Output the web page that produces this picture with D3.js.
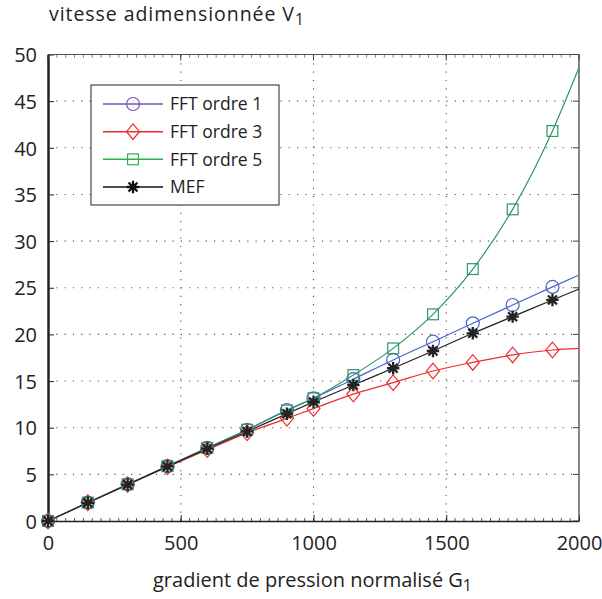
<!DOCTYPE html>
<html><head><meta charset="utf-8">
<script src="https://cdn.jsdelivr.net/npm/d3@7"></script>
<style>
body{margin:0;background:#fff;}
text{font-family:"Open Sans",sans-serif;fill:#222;}
</style></head>
<body><svg id="c" width="602" height="599"></svg>
<script>
// ---- data ----
const xValues = [0,150,300,450,600,750,900,1000,1150,1300,1450,1600,1750,1900];
const xEnd = 2000;
const fft1 = [0,1.97,3.93,5.88,7.84,9.78,11.88,13.15,15.2,17.26,19.22,21.19,23.15,25.09];
const fft3 = [0,1.95,3.9,5.8,7.65,9.45,11.0,12.05,13.6,14.83,16.08,17.0,17.8,18.33];
const fft5 = [0,1.97,3.93,5.88,7.84,9.78,11.85,13.15,15.64,18.5,22.15,27.0,33.4,41.8];
const mef  = [0,1.95,3.9,5.85,7.75,9.6,11.5,12.75,14.57,16.37,18.22,20.12,21.9,23.69];
const endValues = {fft1:26.37, fft3:18.5, fft5:48.6, mef:24.87};
const xTicks = [0,500,1000,1500,2000];
const yTicks = [0,5,10,15,20,25,30,35,40,45,50];
const seriesNames = ["FFT ordre 1","FFT ordre 3","FFT ordre 5","MEF"];
const yTitle = "vitesse adimensionnée V";
const xTitle = "gradient de pression normalisé G";

const svg = d3.select("#c");
const L=48,R=579,T=54.5,B=521;
const x = d3.scaleLinear().domain([0,2000]).range([L,R]);
const y = d3.scaleLinear().domain([0,50]).range([B,T]);

// grid
const g = svg.append("g");
g.selectAll(".gx").data(xTicks.filter(d=>d>0&&d<2000)).join("line")
 .attr("x1",d=>x(d)).attr("x2",d=>x(d)).attr("y1",B).attr("y2",T)
 .attr("stroke","#555").attr("stroke-width",1.1).attr("stroke-dasharray","1.2,7.1");
g.selectAll(".gy").data(yTicks.filter(d=>d>0&&d<50)).join("line")
 .attr("x1",L).attr("x2",R).attr("y1",d=>y(d)).attr("y2",d=>y(d))
 .attr("stroke","#555").attr("stroke-width",1.1).attr("stroke-dasharray","1.2,7.1");

// minor ticks on x (top & bottom)
const minor = d3.range(0,2000.01,500/15);
svg.append("g").selectAll("line").data(minor).join("line")
 .attr("x1",d=>x(d)).attr("x2",d=>x(d)).attr("y1",B).attr("y2",B-3)
 .attr("stroke","#333").attr("stroke-width",0.8);
svg.append("g").selectAll("line").data(minor).join("line")
 .attr("x1",d=>x(d)).attr("x2",d=>x(d)).attr("y1",T).attr("y2",T+3)
 .attr("stroke","#555").attr("stroke-width",0.8);

// axes with d3 axis (ticks inside)
const ax = svg.append("g").attr("transform",`translate(0,${B})`)
 .call(d3.axisBottom(x).tickValues(xTicks).tickFormat(d3.format("d")).tickSizeInner(-6).tickSizeOuter(0).tickPadding(0));
ax.select(".domain").attr("stroke","#222").attr("stroke-width",1.6);
ax.selectAll(".tick line").attr("stroke","#222");
ax.selectAll(".tick text").attr("font-size",20).attr("y",29).attr("dy",0).attr("fill","#222")
 .style("font-family","'Open Sans',sans-serif");
const ay = svg.append("g").attr("transform",`translate(${L},0)`)
 .call(d3.axisLeft(y).tickValues(yTicks).tickFormat(d3.format("d")).tickSizeInner(-6).tickSizeOuter(0).tickPadding(0));
ay.select(".domain").attr("stroke","#222").attr("stroke-width",2.5);
ay.selectAll(".tick line").attr("stroke","#222");
ay.selectAll(".tick text").attr("font-size",20).attr("x",-11).attr("dy","0.36em").attr("fill","#222")
 .style("font-family","'Open Sans',sans-serif");
// top and right box
svg.append("line").attr("x1",L).attr("x2",R).attr("y1",T).attr("y2",T).attr("stroke","#555").attr("stroke-width",1);
svg.append("line").attr("x1",R).attr("x2",R).attr("y1",T).attr("y2",B).attr("stroke","#444").attr("stroke-width",1.3);
svg.append("g").selectAll("line").data(yTicks).join("line")
 .attr("x1",R).attr("x2",R-6).attr("y1",d=>y(d)).attr("y2",d=>y(d)).attr("stroke","#444");
svg.append("g").selectAll("line").data(xTicks).join("line")
 .attr("x1",d=>x(d)).attr("x2",d=>x(d)).attr("y1",T).attr("y2",T+6).attr("stroke","#444");

// series
const series = [
 {name:seriesNames[0], vals:fft1, end:endValues.fft1, color:"#4766c6", lcolor:"#7356b2", marker:"circle"},
 {name:seriesNames[1], vals:fft3, end:endValues.fft3, color:"#ee2b2b", lcolor:"#ee2b2b", marker:"diamond"},
 {name:seriesNames[2], vals:fft5, end:endValues.fft5, color:"#2f9466", lcolor:"#2bb14a", marker:"square"},
 {name:seriesNames[3], vals:mef,  end:endValues.mef,  color:"#222222", lcolor:"#111111", marker:"star"}
];
const line = d3.line().x(d=>x(d[0])).y(d=>y(d[1])).curve(d3.curveMonotoneX);

function drawMarker(sel, type, color){
  if(type==="circle"){
    sel.append("circle").attr("r",6.5).attr("fill","none").attr("stroke",color).attr("stroke-width",1.2);
  } else if(type==="diamond"){
    sel.append("path").attr("d","M0,-7.8L6.5,0L0,7.8L-6.5,0Z").attr("fill","none").attr("stroke",color).attr("stroke-width",1.2);
  } else if(type==="square"){
    sel.append("rect").attr("x",-5.4).attr("y",-5.4).attr("width",10.8).attr("height",10.8).attr("fill","none").attr("stroke",color).attr("stroke-width",1.2);
  } else {
    const r=6.2, r2=r*0.72;
    sel.append("path").attr("d",`M${-r},0L${r},0M0,${-r}L0,${r}M${-r2},${-r2}L${r2},${r2}M${-r2},${r2}L${r2},${-r2}`)
     .attr("stroke",color).attr("stroke-width",2.3).attr("fill","none");
  }
}

const plot = svg.append("g");
series.forEach(s=>{
  const pts = xValues.map((xv,i)=>[xv,s.vals[i]]).concat([[xEnd,s.end]]);
  plot.append("path").attr("d",line(pts)).attr("fill","none").attr("stroke",s.color).attr("stroke-width",1.2);
});
series.forEach(s=>{
  xValues.forEach((xv,i)=>{
    const m = plot.append("g").attr("transform",`translate(${x(xv)},${y(s.vals[i])})`);
    drawMarker(m,s.marker,s.color);
  });
});

// legend
const lg = svg.append("g");
lg.append("rect").attr("x",91).attr("y",85).attr("width",188).attr("height",120)
 .attr("fill","#fff").attr("stroke","#222").attr("stroke-width",1);
const rowY=[104,131.7,159.3,187];
series.forEach((s,i)=>{
  lg.append("line").attr("x1",103).attr("x2",163).attr("y1",rowY[i]).attr("y2",rowY[i]).attr("stroke",s.lcolor).attr("stroke-width",1.6);
  const m = lg.append("g").attr("transform",`translate(133,${rowY[i]})`);
  drawMarker(m,s.marker,s.lcolor);
  lg.append("text").attr("x",170).attr("y",rowY[i]).attr("dy","0.36em").attr("font-size",17.5).text(s.name);
});

// titles (stretched to the reference's width via letter-spacing)
function fitSpacing(tspan, target){
  const w = tspan.node().getComputedTextLength();
  const n = tspan.text().length;
  tspan.attr("letter-spacing", ((target - w)/n).toFixed(2));
}
const t1 = svg.append("text").attr("x",49).attr("y",21).attr("font-size",19.5);
const t1a = t1.append("tspan").text(yTitle);
fitSpacing(t1a, 246);
t1.append("tspan").attr("dy",4).attr("font-size",15.5).attr("letter-spacing",0).text("1");
const t2 = svg.append("text").attr("x",153).attr("y",587).attr("font-size",20);
const t2a = t2.append("tspan").text(xTitle);
fitSpacing(t2a, 310);
t2.append("tspan").attr("dy",4).attr("font-size",16).attr("letter-spacing",0).text("1");
</script>
</body></html>
